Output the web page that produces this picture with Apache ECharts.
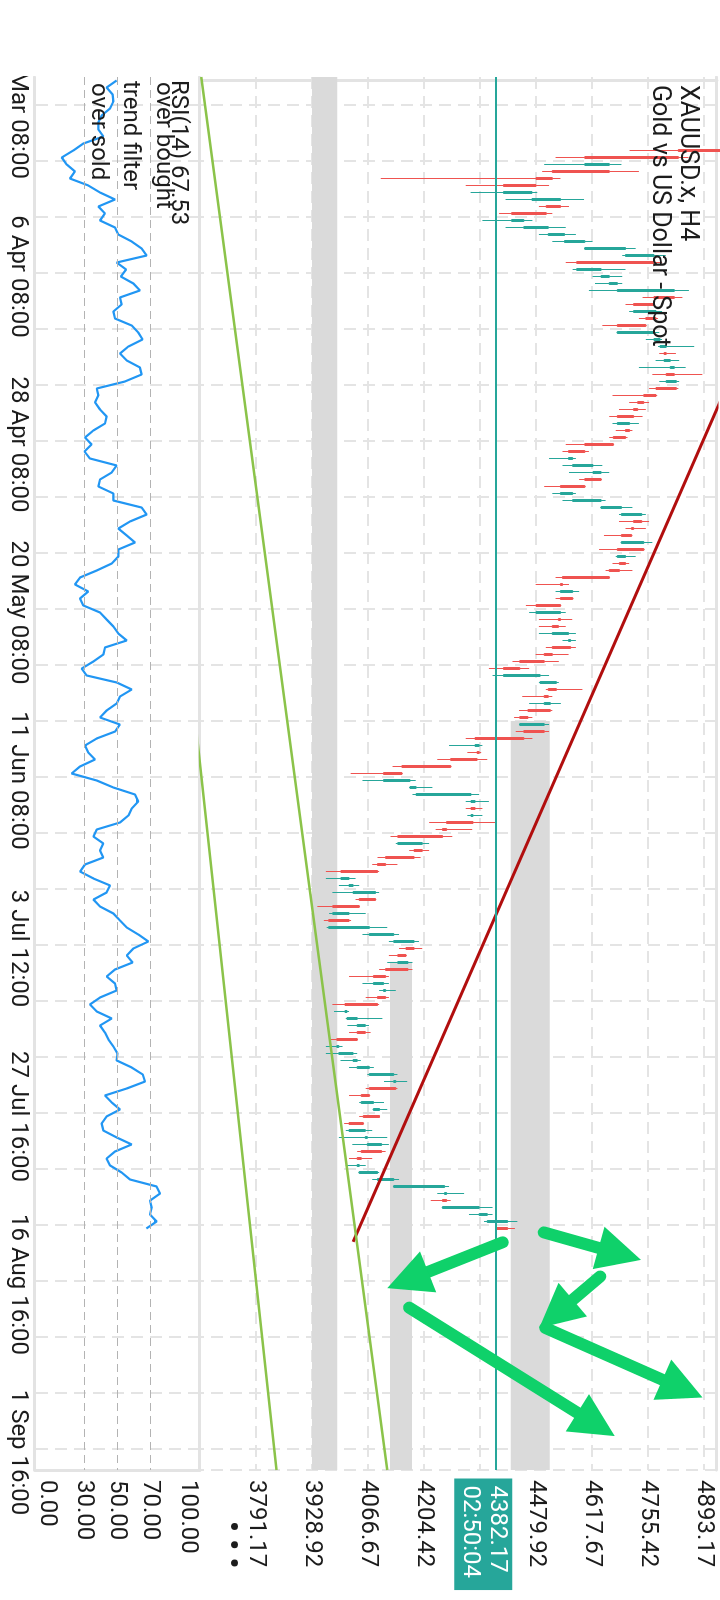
<!DOCTYPE html>
<html><head><meta charset="utf-8">
<script src="https://cdn.jsdelivr.net/npm/echarts@6/dist/echarts.min.js"></script>
<style>
html,body{margin:0;padding:0;background:#fff;overflow:hidden;width:720px;height:1600px;}
#wrap{position:absolute;left:0;top:0;width:1600px;height:720px;transform-origin:0 0;transform:translate(720px,0) rotate(90deg);background:#fff;}
#clip{position:absolute;left:76px;top:0;width:1524px;height:720px;overflow:hidden;}
#chart{position:absolute;left:-76px;top:0;width:1600px;height:720px;}
</style></head><body><div id="wrap"><div id="clip"><div id="chart"></div></div></div>
<script>
// ---- data (H4 candles, 4-bar groups) ----
const opens = [5050,5030,4990,5035,5025,5000,4965,4975,4960,4995,
4960,4830,4600,4660,4520,4480,4400,4470,4540,4505,
4420,4450,4510,4550,4600,4700,4770,4580,4640,4660,
4680,4820,4770,4720,4775,4750,4680,4770,4785,4800,
4795,4810,4820,4800,4825,4775,4745,4730,4720,4680,
4710,4700,4670,4600,4560,4570,4620,4640,4600,4540,
4570,4640,4690,4740,4720,4715,4690,4745,4680,4700,
4685,4660,4545,4540,4570,4540,4480,4540,4535,4520,
4560,4565,4520,4500,4440,4400,4490,4530,4510,4500,
4515,4460,4440,4500,4450,4330,4340,4335,4270,4150,
4105,4170,4185,4320,4330,4320,4325,4260,4250,4140,
4200,4180,4110,4090,4000,4020,4030,4085,4045,3980,
4020,3970,4070,4130,4180,4160,4140,4165,4110,4080,
4105,4110,4090,4010,4015,4040,4060,4040,3990,3995,
4030,4040,4070,4130,4135,4070,4050,4080,4095,4055,
4020,4060,4065,4100,4050,4040,4045,4090,4130,4255,
4260,4250,4340,4360,4410];
const highs = [5085,5040,5045,5060,5035,5010,4990,4995,5005,5000,
4975,4855,4690,4733,4540,4512,4483,4598,4561,4520,
4471,4553,4578,4619,4725,4799,4790,4700,4692,4692,
4856,4840,4772,4790,4780,4752,4783,4790,4869,4824,
4832,4848,4889,4832,4830,4778,4758,4750,4742,4733,
4717,4705,4672,4610,4578,4643,4660,4642,4602,4578,
4651,4717,4750,4758,4750,4717,4766,4747,4725,4709,
4717,4662,4561,4586,4572,4542,4553,4569,4553,4578,
4578,4578,4560,4536,4463,4512,4536,4594,4520,4541,
4520,4471,4512,4512,4471,4348,4345,4360,4272,4152,
4184,4225,4340,4364,4348,4348,4381,4323,4274,4217,
4217,4196,4139,4094,4036,4045,4094,4087,4047,4061,
4025,4114,4143,4192,4200,4162,4176,4176,4118,4118,
4135,4118,4094,4020,4102,4069,4073,4042,4004,4040,
4049,4081,4139,4163,4139,4072,4106,4114,4096,4057,
4077,4114,4118,4110,4077,4061,4094,4143,4266,4303,
4270,4373,4373,4434,4428];
const lows = [5015,4975,4980,5010,4985,4955,4945,4950,4955,4940,
4710,4528,4500,4495,4098,4307,4319,4405,4487,4389,
4348,4405,4487,4520,4598,4692,4553,4570,4619,4625,
4610,4742,4700,4709,4733,4643,4678,4750,4780,4783,
4774,4733,4766,4783,4758,4668,4709,4684,4660,4668,
4676,4660,4553,4545,4512,4545,4561,4586,4500,4520,
4545,4638,4684,4684,4700,4647,4688,4635,4676,4668,
4651,4528,4479,4528,4528,4455,4463,4487,4487,4487,
4545,4504,4479,4422,4364,4373,4487,4504,4446,4463,
4438,4426,4438,4430,4307,4266,4311,4237,4127,4024,
4053,4168,4176,4307,4307,4311,4217,4233,4122,4135,
4168,4090,4077,3963,3963,3995,3979,4036,3942,3971,
3958,3965,4053,4118,4143,4118,4114,4094,4020,4053,
4094,4061,3979,3983,4012,4016,4020,3971,3963,3963,
3999,4020,4065,4106,4061,4020,4045,4078,4045,4008,
4012,3995,4028,4040,4020,4012,4043,4077,4128,4237,
4221,4248,4315,4352,4380];
const closes = [5030,4990,5035,5025,5000,4965,4975,4960,4995,4960,
4830,4600,4660,4520,4480,4400,4470,4540,4505,4420,
4450,4510,4550,4600,4700,4770,4580,4640,4660,4680,
4820,4770,4720,4775,4750,4680,4770,4785,4800,4795,
4810,4820,4800,4825,4775,4745,4730,4720,4680,4710,
4700,4670,4600,4560,4570,4620,4640,4600,4540,4570,
4640,4690,4740,4720,4715,4690,4745,4680,4700,4685,
4660,4545,4540,4570,4540,4480,4540,4535,4520,4560,
4565,4520,4500,4440,4400,4490,4530,4510,4500,4515,
4460,4440,4500,4450,4330,4340,4335,4270,4150,4105,
4170,4185,4320,4330,4320,4325,4260,4250,4140,4200,
4180,4110,4090,4000,4020,4030,4085,4045,3980,4020,
3970,4070,4130,4180,4160,4140,4165,4110,4080,4105,
4110,4090,4010,4015,4040,4060,4040,3990,3995,4030,
4040,4070,4130,4135,4070,4050,4080,4095,4055,4020,
4060,4065,4100,4050,4040,4045,4090,4130,4255,4260,
4250,4340,4360,4410,4382.17];
const rsi = [49.5,43.4,47,47.5,45.5,40.4,38.4,38.4,41.4,29.3,
23.2,16.2,19.2,24.2,21.2,32.3,39.4,48.5,38.4,42.4,
39.4,48.5,50.5,58.6,64.6,67.7,49.5,55.2,52,59.6,
63.6,51.5,52.5,47.5,48.5,58.6,62.6,65.2,56.6,51.5,
55.6,63.6,64.6,54.5,37.4,38.4,36.4,39.4,43.4,42.4,
35.4,30.3,34.3,30,33.3,49.5,46.5,39.4,38.4,47.5,
47.5,64.6,67.7,57.6,50.5,55.6,60.6,50.5,50.5,46.5,
37.4,27.3,24.2,32.3,27.3,29.3,39.4,43.4,47.5,50.5,
55.6,42.4,41.4,35.4,28.3,31.3,49.5,58.6,51.5,49.5,
43.4,39.4,51.5,48.5,37.4,30.3,32.3,36.4,27.3,22.2,
37.4,47.5,60.6,62.6,58.6,56.6,51.5,37.4,35.4,41.4,
39.4,41.4,30.3,27.3,35.4,45.5,43.4,35.4,39.4,47.5,
51.5,55.6,62.6,68.7,59.6,55.6,59.2,48.5,43.4,48.5,
49.5,39.4,33.3,37.4,46.5,39.4,42.4,44.5,47.5,50,
49.5,58.6,65.3,66.7,55.6,42.4,46.5,51.5,43.4,40.4,
41.4,49.5,58.6,48.5,43.4,45.5,52.5,57.6,73.7,75.8,
69.7,70.7,69.7,73.7,67.53];

const slotCount = 199;
const timeLabelIdx = [4,28,52,76,100,124,148,172,196];
const timeLabelText = ['15 Mar 08:00','6 Apr 08:00','28 Apr 08:00','20 May 08:00','11 Jun 08:00','3 Jul 12:00','27 Jul 16:00','16 Aug 16:00','1 Sep 16:00'];
const priceMin = 3653.42, priceMax = 4925.1, priceStep = 137.75;
const rsiTicks = [0,30,50,70,100];
const rsiLevels = [30,50,70];
const lastPrice = 4382.17, countdown = '02:50:04';
const redTrend = [[44.6,4942.4],[165.9,4029.8]];
const greenTrend1 = [[-0.5,3656.6],[198.5,4114]];
const greenTrend2 = [[90,3639.2],[198.5,3841.8]];
const arrows = [
  [[165.97,4397.8],[171.36,4164.1]],
  [[164.56,4499.1],[167.63,4686.0]],
  [[170.86,4637.8],[176.19,4529.1]],
  [[178.21,4502.8],[186.87,4840.0]],
  [[175.31,4168.0],[191.99,4627.5]]
];
const zones = [[-0.5,3929,3991],[125.9,4121,4175],[91.5,4418,4514]];

// ---- build ----
const cats = [];
for (let i = 0; i < slotCount; i++) cats.push('b' + i);
const labelMap = {};
timeLabelIdx.forEach((k, n) => { labelMap[k] = timeLabelText[n]; });
const candles = opens.map((o, i) => [o, closes[i], lows[i], highs[i]]);

const FONT = 'Roboto';
const TXT = '#1c1c1c';
const BORDER = '#e3e3e3';
const gridDash = {show:true, interval:(i)=> i % 8 === 4, lineStyle:{color:'#e4e4e4', width:2, type:[12,7]}};
const txt = (t, left, top, size, weight) => ({text:t, left:left, top:top, padding:0,
  textStyle:{fontSize:size, fontWeight:weight || 'normal', color:TXT, fontFamily:FONT}});

const chart = echarts.init(document.getElementById('chart'), null, {renderer:'canvas'});
chart.setOption({
  animation:false,
  backgroundColor:'#fff',
  title:[
    txt('XAUUSD.x, H4', 85, 20, 25),
    txt('Gold vs US Dollar - Spot', 85, 48, 25),
    txt('RSI(14) ' + rsi[rsi.length-1].toFixed(2), 80, 530, 24),
    txt('over bought', 82, 545, 24),
    txt('trend filter', 81, 578, 24),
    txt('over sold', 83, 610, 24),
    txt('• • •', 1521, 473, 30, 'bold')
  ],
  grid:[
    {left:77, right:130, top:3, height:517},
    {left:77, right:130, top:520, height:165}
  ],
  xAxis:[
    {type:'category', gridIndex:0, data:cats, boundaryGap:true,
     axisLine:{show:true, lineStyle:{color:BORDER, width:3}}, axisTick:{show:false},
     axisLabel:{show:false}, splitLine:gridDash},
    {type:'category', gridIndex:1, data:cats, boundaryGap:true,
     axisLine:{show:true, lineStyle:{color:BORDER, width:3}}, axisTick:{show:false},
     axisLabel:{show:true, interval:(i)=> labelMap[i] !== undefined, margin:5,
       fontSize:24, color:TXT, fontFamily:FONT, alignMinLabel:'center', hideOverlap:false,
       formatter:(v, i)=> labelMap[i] || ''},
     splitLine:gridDash},
    {type:'value', gridIndex:0, position:'top', min:-0.5, max:slotCount-0.5,
     axisLine:{show:true, onZero:false, lineStyle:{color:BORDER, width:3}},
     axisTick:{show:false}, axisLabel:{show:false}, splitLine:{show:false}}
  ],
  yAxis:[
    {type:'value', gridIndex:0, position:'right', min:priceMin, max:priceMax, interval:priceStep,
     axisLine:{show:true, lineStyle:{color:BORDER, width:3}}, axisTick:{show:false},
     axisLabel:{margin:10, fontSize:24, color:TXT, fontFamily:FONT, showMinLabel:false, showMaxLabel:false,
       formatter:(v)=> v.toFixed(2)},
     splitLine:{show:true, lineStyle:{color:'#e4e4e4', width:2, type:[12,7]}}},
    {type:'value', gridIndex:1, position:'right', min:0, max:100, interval:10,
     axisLine:{show:true, lineStyle:{color:BORDER, width:3}}, axisTick:{show:false},
     axisLabel:{margin:10, fontSize:24, color:TXT, fontFamily:FONT,
       verticalAlignMinLabel:'bottom', verticalAlignMaxLabel:'top',
       formatter:(v)=> rsiTicks.indexOf(Math.round(v)) >= 0 ? v.toFixed(2) : ''},
     splitLine:{show:false}}
  ],
  series:[
    {type:'candlestick', name:'XAUUSD.x', xAxisIndex:0, yAxisIndex:0, data:candles, barWidth:2, clip:true,
     itemStyle:{color:'#26a69a', color0:'#ef5350', borderColor:'#26a69a', borderColor0:'#ef5350', borderWidth:1}},
    {type:'line', name:'RSI(14)', xAxisIndex:1, yAxisIndex:1, data:rsi, symbol:'none', smooth:false,
     lineStyle:{color:'#2196f3', width:2.2},
     markLine:{silent:true, symbol:['none','none'], label:{show:false},
       lineStyle:{color:'#b3b3b3', width:1.2, type:[8,5]},
       data: rsiLevels.map(v => ({yAxis:v}))}},
    {type:'line', name:'trend', xAxisIndex:2, yAxisIndex:0, data:redTrend, symbol:'none', clip:true,
     lineStyle:{color:'#b10e0e', width:3}, z:3,
     markArea:{silent:true, itemStyle:{color:'#dadada'},
       data: zones.map(zz => [{coord:[zz[0], zz[1]]}, {coord:[slotCount-0.5, zz[2]]}])},
     markLine:{silent:true, symbol:['none','none'], label:{show:false},
       lineStyle:{color:'#26a69a', width:2, type:'solid'}, data:[{yAxis:lastPrice}]},
     markPoint:{silent:true, symbol:'rect', symbolSize:1, itemStyle:{color:'rgba(0,0,0,0)'},
       data:[{coord:[slotCount-0.5, lastPrice]}],
       label:{show:true, position:'right', distance:8, offset:[0,13],
         formatter: lastPrice.toFixed(2) + '\n' + countdown,
         color:'#fff', backgroundColor:'#26a69a', padding:[2,12,2,7],
         fontSize:24, lineHeight:27, fontFamily:FONT, align:'left'}}},
    {type:'line', name:'channel1', xAxisIndex:2, yAxisIndex:0, data:greenTrend1, symbol:'none', clip:true,
     lineStyle:{color:'#8bc34a', width:2.5}, z:3,
     markLine:{silent:true, symbol:['none','triangle'], symbolSize:44, label:{show:false},
       lineStyle:{color:'#0fd16a', width:12, type:'solid', cap:'round', opacity:1},
       data: arrows.map(a => [{coord:a[0]}, {coord:a[1]}])}},
    {type:'line', name:'channel2', xAxisIndex:2, yAxisIndex:0, data:greenTrend2, symbol:'none', clip:true,
     lineStyle:{color:'#8bc34a', width:2.5}, z:3}
  ]
});
</script></body></html>
